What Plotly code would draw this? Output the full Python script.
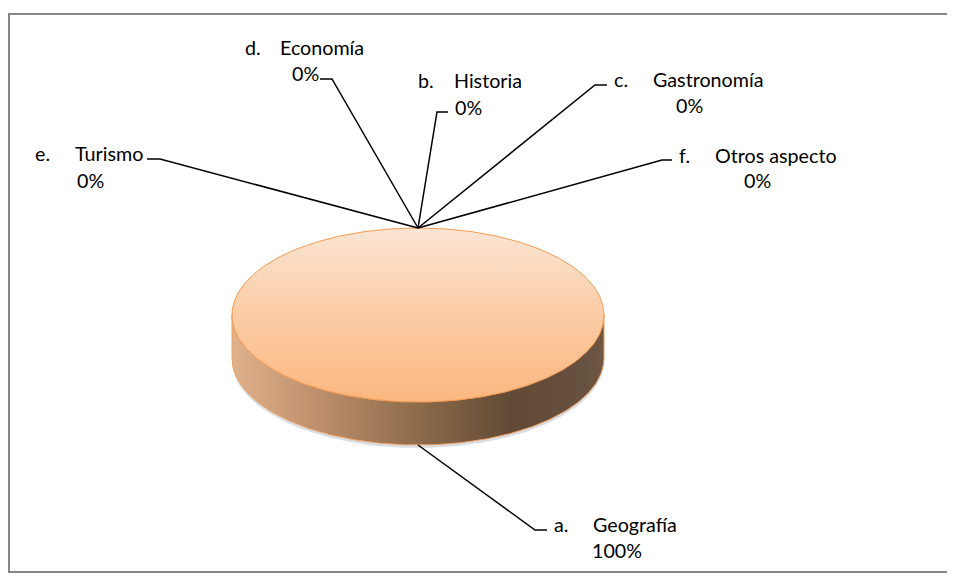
import numpy as np
import plotly.graph_objects as go

# ---- data ----
letters = ["a.", "b.", "c.", "d.", "e.", "f."]
categories = ["Geografía", "Historia", "Gastronomía", "Economía", "Turismo", "Otros aspecto"]
values = [100, 0, 0, 0, 0, 0]

# ---- layout constants (pixel space) ----
W, H = 955, 582
OFF = 8  # page body margin
CX, CY, RX, RY, DEPTH = 418, 315, 186, 87, 43
FONT = "Lato"
FS = 19.7

# label layout: leader elbow, end x, letter x, name x, row y, pct x, pct y
label_layout = {
    "a.": dict(elbow=(535, 530), end=547, lx=552, nx=591, ny=524, px=590, py=550),
    "b.": dict(elbow=(437, 112), end=448, lx=416, nx=452, ny=80, px=453, py=107),
    "c.": dict(elbow=(595, 85), end=607, lx=612, nx=651, ny=79, px=674, py=105),
    "d.": dict(elbow=(332, 79), end=320, lx=243, nx=278, ny=47, px=290, py=73),
    "e.": dict(elbow=(160, 159), end=147, lx=33, nx=73, ny=153, px=75, py=180),
    "f.": dict(elbow=(662, 160), end=672, lx=677, nx=713, ny=155, px=742, py=180),
}

def rim(theta_deg, dy=0.0):
    t = np.radians(theta_deg)
    return CX + RX * np.sin(t), CY - RY * np.cos(t) + dy

fig = go.Figure()

total = float(sum(values))
cum = 0.0
slices = []
for L, name, v in zip(letters, categories, values):
    a0 = cum / total * 360.0
    cum += v
    a1 = cum / total * 360.0
    slices.append((L, name, v, a0, a1))

# shadow under pie
for L, name, v, a0, a1 in slices:
    if v <= 0:
        continue
    th = np.linspace(max(a0, 90), min(a1, 270), 200)
    x1, y1 = rim(th, DEPTH + 3)
    x0, y0 = rim(th[::-1], 0)
    fig.add_trace(go.Scatter(x=np.concatenate([x1, x0]), y=np.concatenate([y1, y0]),
                             fill="toself", mode="lines", line=dict(width=0),
                             fillcolor="rgba(150,160,175,0.35)", hoverinfo="skip", showlegend=False))

# side of pie (front half)
for L, name, v, a0, a1 in slices:
    if v <= 0:
        continue
    s0, s1 = max(a0, 90), min(a1, 270)
    if s1 <= s0:
        continue
    th = np.linspace(s0, s1, 200)
    xt, yt = rim(th, 0)
    xb, yb = rim(th[::-1], DEPTH)
    fig.add_trace(go.Scatter(
        x=np.concatenate([xt, xb, xt[:1]]), y=np.concatenate([yt, yb, yt[:1]]),
        fill="toself", mode="lines", line=dict(color="#f0a060", width=1),
        fillgradient=dict(type="horizontal", colorscale=[
            [0.0, "#deb28c"], [0.2, "#c39370"], [0.5, "#8d6b4b"],
            [0.75, "#614a35"], [0.95, "#675140"], [1.0, "#6e5843"]]),
        hoverinfo="skip", showlegend=False))

# top of pie
for L, name, v, a0, a1 in slices:
    if v <= 0:
        continue
    th = np.linspace(a0, a1, 400)
    xs, ys = rim(th, 0)
    if a1 - a0 < 360:
        xs = np.concatenate([[CX], xs, [CX]])
        ys = np.concatenate([[CY], ys, [CY]])
    fig.add_trace(go.Scatter(
        x=xs, y=ys, fill="toself", mode="lines", line=dict(color="#f59a52", width=1),
        fillgradient=dict(type="vertical", colorscale=[
            [0.0, "#fbb77f"], [0.5, "#fbcca5"], [1.0, "#fbe5d3"]]),
        hoverinfo="skip", showlegend=False))

# leader lines and labels
annotations = []
for L, name, v, a0, a1 in slices:
    mid = (a0 + a1) / 2.0
    ang = mid % 360
    dy = DEPTH if 90 < ang < 270 else 0
    sx, sy = rim(mid, dy)
    lay = label_layout[L]
    ex, ey = lay["elbow"]
    fig.add_trace(go.Scatter(x=[sx, ex, lay["end"]], y=[sy, ey, ey], mode="lines",
                             line=dict(color="#000000", width=1.5),
                             hoverinfo="skip", showlegend=False))
    pct = f"{round(v / total * 100):d}%"
    for txt, x, y in [(L, lay["lx"], lay["ny"]), (name, lay["nx"], lay["ny"]),
                      (pct, lay["px"], lay["py"])]:
        annotations.append(dict(x=x, y=y, xref="x", yref="y", text=txt, showarrow=False,
                                xanchor="left", yanchor="middle",
                                font=dict(family=FONT, size=FS, color="#000000")))

fig.update_layout(
    width=W - OFF, height=H - OFF,
    margin=dict(l=0, r=0, t=0, b=0),
    paper_bgcolor="white", plot_bgcolor="white",
    xaxis=dict(range=[OFF, W], visible=False, fixedrange=True),
    yaxis=dict(range=[H, OFF], visible=False, fixedrange=True),
    annotations=annotations,
    shapes=[dict(type="rect", xref="x", yref="y", x0=9, y0=14, x1=948, y1=572,
                 line=dict(color="#878787", width=2), fillcolor="rgba(0,0,0,0)", layer="below")],
    showlegend=False, hovermode=False,
)

fig.write_html("out.html")
